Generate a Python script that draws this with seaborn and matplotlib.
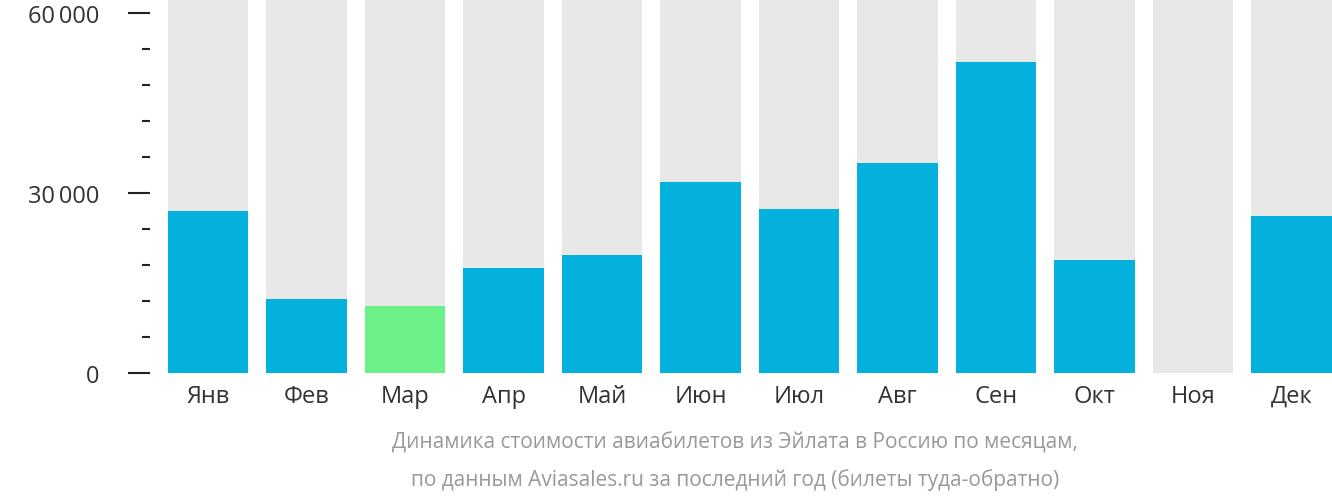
import numpy as np
import pandas as pd
import seaborn as sns
import matplotlib.pyplot as plt
from matplotlib.ticker import MultipleLocator, FuncFormatter

months = ['Янв', 'Фев', 'Мар', 'Апр', 'Май', 'Июн', 'Июл', 'Авг', 'Сен', 'Окт', 'Ноя', 'Дек']
prices = [27000, 12300, 11200, 17500, 19700, 31800, 27300, 35000, 51800, 18800, 0, 26200]
cheapest = 'Мар'
ymax = 62300

plt.rcParams['font.family'] = 'Open Sans'
df = pd.DataFrame({'month': months, 'price': prices, 'bg': [ymax] * len(months)})
colors = ['#6cf08a' if m == cheapest else '#03b1dc' for m in months]

fig = plt.figure(figsize=(13.32, 5.02), dpi=100)
ax = fig.add_axes([0.1126, 1 - 374 / 502, 1 - 0.1126, 374 / 502])
sns.barplot(data=df, x='month', y='bg', color='#e8e8e8', width=0.82, ax=ax, saturation=1)
sns.barplot(data=df, x='month', y='price', hue='month', palette=colors, legend=False,
            width=0.82, ax=ax, saturation=1)

ax.set_ylim(0, ymax)
ax.set_xlim(-0.59, 11.41)
ax.yaxis.set_major_locator(MultipleLocator(30000))
ax.yaxis.set_minor_locator(MultipleLocator(6000))
ax.yaxis.set_major_formatter(FuncFormatter(lambda v, p: f'{int(v):,} ₽'.replace(',', '\u2009')))
ax.tick_params(axis='y', which='major', length=16, width=1.5, color='#222222', pad=6, labelsize=17)
ax.tick_params(axis='y', which='minor', length=6, width=1.5, color='#222222')
ax.tick_params(axis='x', length=0, labelsize=17, pad=8)
for s in ax.spines.values():
    s.set_visible(False)
ax.set_xlabel('')
ax.set_ylabel('')
for t in ax.get_xticklabels() + ax.get_yticklabels():
    t.set_color('#333333')

fig.text(0.552, 1 - 443 / 502, 'Динамика стоимости авиабилетов из Эйлата в Россию по месяцам,',
         ha='center', va='center', fontsize=15, color='#999999')
fig.text(0.552, 1 - 480 / 502, 'по данным Aviasales.ru за последний год (билеты туда-обратно)',
         ha='center', va='center', fontsize=15, color='#999999')

fig.savefig('out.png', dpi=100)
